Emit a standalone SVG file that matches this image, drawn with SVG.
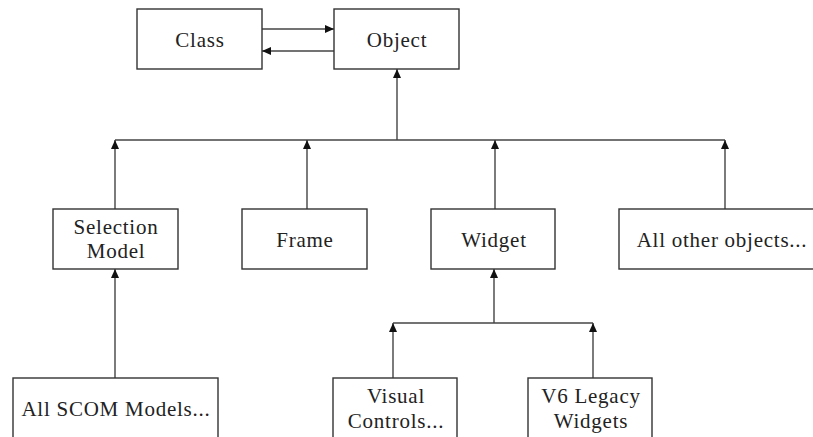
<svg xmlns="http://www.w3.org/2000/svg" width="813" height="437" viewBox="0 0 813 437">
<style>
.box{fill:#fff;stroke:#333;stroke-width:1.4}
.lbl{font-family:"Liberation Serif","Times New Roman",serif;font-size:21px;letter-spacing:0.75px;fill:#222;text-anchor:middle}
.ln{stroke:#444;stroke-width:1.4;fill:none}
.ar{marker-end:url(#ah)}
</style>
<defs>
<marker id="ah" viewBox="0 0 9 8" refX="9" refY="4" markerWidth="9" markerHeight="8" markerUnits="userSpaceOnUse" orient="auto">
<path d="M0,0 L9,4 L0,8 z" fill="#111"/>
</marker>
</defs>
<rect width="813" height="437" fill="#fff"/>
<g id="connectors">
<line class="ln ar" x1="262" y1="29" x2="334" y2="29"/>
<line class="ln ar" x1="334" y1="51" x2="262" y2="51"/>
<line class="ln ar" x1="397" y1="140" x2="397" y2="69"/>
<line class="ln" x1="115" y1="140" x2="725" y2="140"/>
<line class="ln ar" x1="115" y1="209" x2="115" y2="140"/>
<line class="ln ar" x1="307" y1="209" x2="307" y2="140"/>
<line class="ln ar" x1="495" y1="209" x2="495" y2="140"/>
<line class="ln ar" x1="725" y1="209" x2="725" y2="140"/>
<line class="ln ar" x1="115" y1="378" x2="115" y2="269"/>
<line class="ln ar" x1="494" y1="323" x2="494" y2="269"/>
<line class="ln" x1="393" y1="323" x2="593" y2="323"/>
<line class="ln ar" x1="393" y1="378" x2="393" y2="323"/>
<line class="ln ar" x1="593" y1="378" x2="593" y2="323"/>
</g>
<g id="class"><rect class="box" x="137" y="9" width="125" height="60"/><text class="lbl" x="200" y="47">Class</text></g>
<g id="object"><rect class="box" x="334" y="9" width="125" height="60"/><text class="lbl" x="397" y="47">Object</text></g>
<g id="selection-model"><rect class="box" x="53" y="209" width="125" height="60"/><text class="lbl" x="116" y="234">Selection</text><text class="lbl" x="116" y="258">Model</text></g>
<g id="frame"><rect class="box" x="242" y="209" width="125" height="60"/><text class="lbl" x="305" y="247">Frame</text></g>
<g id="widget"><rect class="box" x="431" y="209" width="124" height="60"/><text class="lbl" x="494" y="247">Widget</text></g>
<g id="all-other-objects"><rect class="box" x="619" y="209" width="211" height="60"/><text class="lbl" x="722" y="247">All other objects...</text></g>
<g id="all-scom-models"><rect class="box" x="13" y="378" width="205" height="70"/><text class="lbl" x="116" y="416">All SCOM Models...</text></g>
<g id="visual-controls"><rect class="box" x="333" y="378" width="124" height="70"/><text class="lbl" x="396" y="403">Visual</text><text class="lbl" x="396" y="428">Controls...</text></g>
<g id="v6-legacy-widgets"><rect class="box" x="528" y="378" width="124" height="70"/><text class="lbl" x="591" y="403">V6 Legacy</text><text class="lbl" x="591" y="428">Widgets</text></g>
</svg>
